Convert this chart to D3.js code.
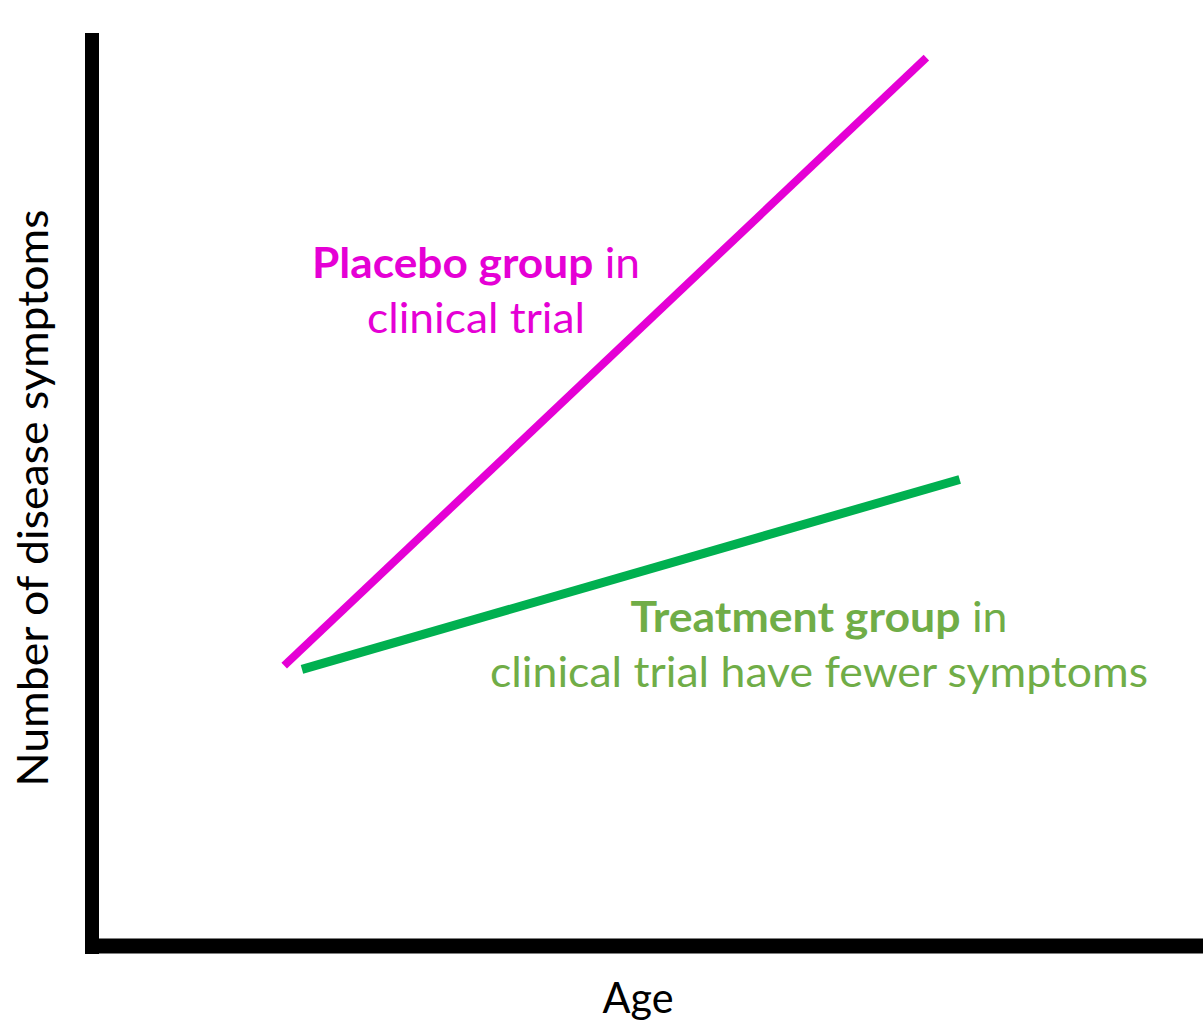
<!DOCTYPE html>
<html>
<head>
<meta charset="utf-8">
<script src="https://cdn.jsdelivr.net/npm/d3@7"></script>
<style>
  body { margin: 0; background: #fff; }
  text { font-family: Lato, "Open Sans", sans-serif; }
</style>
</head>
<body>
<script>
// groups and their (age, symptoms) endpoints, arbitrary 0-100 units
const groups = ["placebo", "treatment"];
const placeboAge = [17.3, 75.1];
const placeboSymptoms = [30.7, 97.3];
const treatmentAge = [18.9, 78.1];
const treatmentSymptoms = [30.3, 51.1];

const width = 1203, height = 1028;

const svg = d3.select('body')
    .append('svg')
    .attr('width', width)
    .attr('height', height);

const x = d3.scaleLinear().domain([0, 100]).range([92, 1203]);
const y = d3.scaleLinear().domain([0, 100]).range([946, 33]);

const colors = { placebo: "#e500d5", treatment: "#00b050" };
const textColors = { placebo: "#e500d5", treatment: "#70ad47" };

const lines = [
    { name: "placebo", pts: d3.zip(placeboAge, placeboSymptoms), w: 8 },
    { name: "treatment", pts: d3.zip(treatmentAge, treatmentSymptoms), w: 9 }
];

const line = d3.line().x(d => x(d[0])).y(d => y(d[1]));

svg.selectAll('path.grp').data(lines).enter().append('path')
    .attr('class', 'grp')
    .attr('d', d => line(d.pts))
    .attr('fill', 'none')
    .attr('stroke', d => colors[d.name])
    .attr('stroke-width', d => d.w);

// axes: thick black L, no ticks
svg.append('line')
    .attr('x1', x(0)).attr('x2', x(0))
    .attr('y1', y(100)).attr('y2', y(0) + 8)
    .attr('stroke', '#000').attr('stroke-width', 14);
svg.append('line')
    .attr('x1', x(0) - 7).attr('x2', x(100))
    .attr('y1', y(0)).attr('y2', y(0))
    .attr('stroke', '#000').attr('stroke-width', 15);

// annotations, one text per row so each can be stretched to the picture's width
function label(cx, cy, rows, lens, color) {
    rows.forEach((r, i) => {
        const t = svg.append('text')
            .attr('x', cx).attr('y', cy + i * 55)
            .attr('text-anchor', 'middle')
            .attr('font-size', 42)
            .attr('fill', color)
            .attr('textLength', lens[i])
            .attr('lengthAdjust', 'spacingAndGlyphs');
        r.forEach(p => t.append('tspan').attr('font-weight', p[1] ? 'bold' : 'normal').text(p[0]));
    });
}

label(476, 278, [[["Placebo group", true], [" in", false]], [["clinical trial", false]]], [328, 218], textColors.placebo);
label(819, 632, [[["Treatment group", true], [" in", false]], [["clinical trial have fewer symptoms", false]]], [377, 658], textColors.treatment);

svg.append('text')
    .attr('x', 638).attr('y', 1013)
    .attr('text-anchor', 'middle')
    .attr('font-size', 42)
    .attr('textLength', 71)
    .attr('lengthAdjust', 'spacingAndGlyphs')
    .text('Age');

svg.append('text')
    .attr('transform', 'translate(48,498) rotate(-90)')
    .attr('text-anchor', 'middle')
    .attr('font-size', 42)
    .attr('textLength', 577)
    .attr('lengthAdjust', 'spacingAndGlyphs')
    .text('Number of disease symptoms');
</script>
</body>
</html>
